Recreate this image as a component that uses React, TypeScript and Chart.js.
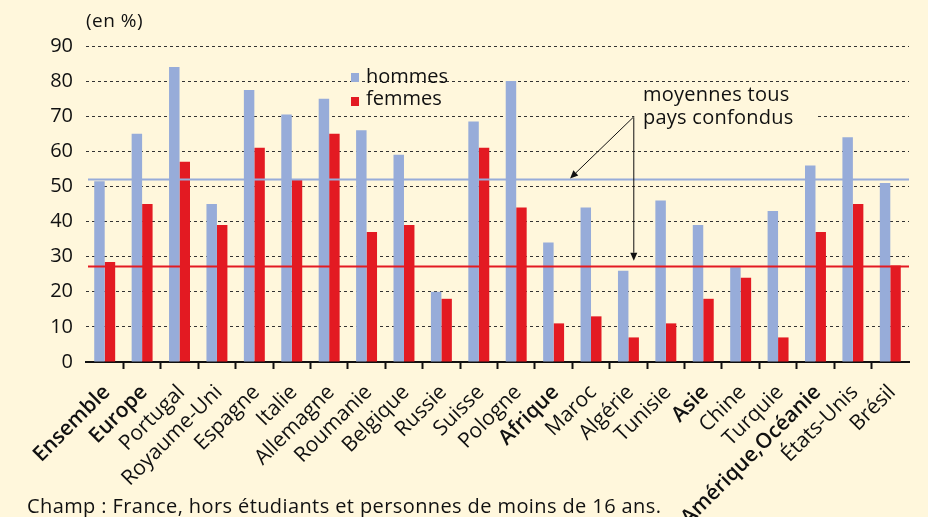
import React, { useEffect, useRef } from 'react';
import { Chart, registerables } from 'chart.js';

Chart.register(...registerables);

const categories = [
  'Ensemble', 'Europe', 'Portugal', 'Royaume-Uni', 'Espagne', 'Italie', 'Allemagne',
  'Roumanie', 'Belgique', 'Russie', 'Suisse', 'Pologne', 'Afrique', 'Maroc', 'Algérie',
  'Tunisie', 'Asie', 'Chine', 'Turquie', 'Amérique,Océanie', 'États-Unis', 'Brésil',
];
const boldCategories = ['Ensemble', 'Europe', 'Afrique', 'Asie', 'Amérique,Océanie'];
const hommes = [51.5, 65, 84, 45, 77.5, 70.5, 75, 66, 59, 20, 68.5, 80, 34, 44, 26, 46, 39, 27, 43, 56, 64, 51];
const femmes = [28.5, 45, 57, 39, 61, 52, 65, 37, 39, 18, 61, 44, 11, 13, 7, 11, 18, 24, 7, 37, 45, 27.5];
const moyenneHommes = 52;
const moyenneFemmes = 27.4;
const yMin = 0;
const yMax = 90;
const yStep = 10;
const seriesLabels = ['hommes', 'femmes'];
const annotationLines = ['moyennes tous', 'pays confondus'];
const unitLabel = '(en %)';
const footer = 'Champ : France, hors étudiants et personnes de moins de 16 ans.';

const BG = '#fff7dc';
const BLUE = '#97acd9';
const RED = '#e31a22';
const FONT = "'Open Sans', sans-serif";

const overlayPlugin = {
  id: 'overlay',
  afterDatasetsDraw(chart: any) {
    const { ctx, chartArea, scales } = chart;
    const x = scales.x;
    const y = scales.y;
    ctx.save();
    // mean lines
    const means: [number, string][] = [[moyenneHommes, BLUE], [moyenneFemmes, RED]];
    ctx.lineWidth = 2;
    for (const [v, c] of means) {
      const py = Math.round(y.getPixelForValue(v)) + 0.5;
      ctx.strokeStyle = c;
      ctx.beginPath();
      ctx.moveTo(chartArea.left + 2, py);
      ctx.lineTo(chartArea.right, py);
      ctx.stroke();
    }
    // mask behind annotation text
    const apexX = x.getPixelForValue(14.13);
    const apexY = y.getPixelForValue(69.7);
    ctx.fillStyle = BG;
    ctx.fillRect(apexX + 1, apexY - 7, 183, 14);
    // arrows
    ctx.strokeStyle = '#111';
    ctx.fillStyle = '#111';
    ctx.lineWidth = 1;
    const drawArrow = (x0: number, y0: number, x1: number, y1: number) => {
      const ang = Math.atan2(y1 - y0, x1 - x0);
      const hl = 8;
      const hw = 3.5;
      const bx = x1 - hl * Math.cos(ang);
      const by = y1 - hl * Math.sin(ang);
      ctx.beginPath();
      ctx.moveTo(x0, y0);
      ctx.lineTo(bx, by);
      ctx.stroke();
      ctx.beginPath();
      ctx.moveTo(x1, y1);
      ctx.lineTo(bx + hw * Math.sin(ang), by - hw * Math.cos(ang));
      ctx.lineTo(bx - hw * Math.sin(ang), by + hw * Math.cos(ang));
      ctx.closePath();
      ctx.fill();
    };
    drawArrow(apexX, apexY, x.getPixelForValue(12.44), y.getPixelForValue(moyenneHommes) - 1);
    drawArrow(apexX + 0.5, apexY, apexX + 0.5, y.getPixelForValue(moyenneFemmes) - 5);
    ctx.restore();
  },
};

export default function App() {
  const ref = useRef<HTMLCanvasElement>(null);
  useEffect(() => {
    if (!ref.current) return;
    const chart = new Chart(ref.current, {
      type: 'bar',
      data: {
        labels: categories,
        datasets: [
          { label: seriesLabels[0], data: hommes, backgroundColor: BLUE, borderWidth: 0 },
          { label: seriesLabels[1], data: femmes, backgroundColor: RED, borderWidth: 0 },
        ],
      },
      options: {
        responsive: false,
        animation: false,
        layout: { padding: { left: 0, top: 46, right: 19, bottom: 0 } },
        plugins: { legend: { display: false }, tooltip: { enabled: false } },
        datasets: { bar: { categoryPercentage: 0.56, barPercentage: 1.0 } },
        scales: {
          x: {
            afterFit: (s: any) => { s.height = 155; },
            grid: {
              offset: true,
              drawOnChartArea: false,
              drawTicks: true,
              tickLength: 7,
              tickWidth: 2,
              color: (c: any) => (c.type !== 'tick' || c.index === 0 ? 'rgba(0,0,0,0)' : '#111'),
            },
            border: { display: true, color: '#111', width: 2 },
            ticks: {
              autoSkip: false,
              minRotation: 45,
              maxRotation: 45,
              padding: 11,
              labelOffset: 2,
              color: '#111',
              font: (c: any) => ({
                family: FONT,
                size: 21,
                weight: boldCategories.includes(categories[c.index]) ? '600' : 'normal',
              }),
            },
          },
          y: {
            min: yMin,
            max: yMax,
            afterFit: (s: any) => { s.width = 86; },
            grid: {
              drawTicks: false,
              lineWidth: 1,
              color: (c: any) => (c.tick && c.tick.value === 0 ? 'rgba(0,0,0,0)' : '#333'),
            },
            border: { display: false, dash: [3, 3] },
            ticks: {
              stepSize: yStep,
              padding: 13,
              color: '#111',
              font: { family: FONT, size: 20 },
            },
          },
        },
      },
      plugins: [overlayPlugin],
    });
    return () => chart.destroy();
  }, []);

  const txt = (style: React.CSSProperties): React.CSSProperties => ({
    position: 'absolute',
    fontFamily: FONT,
    lineHeight: 1,
    whiteSpace: 'nowrap',
    color: '#111',
    ...style,
  });

  return (
    <div style={{ position: 'fixed', left: 0, top: 0, width: 928, height: 517, background: BG, overflow: 'hidden' }}>
      <canvas ref={ref} width={928} height={517} style={{ position: 'absolute', left: 0, top: 0 }} />
      <div style={txt({ left: 86, top: 11, fontSize: 19, letterSpacing: 0.5 })}>{unitLabel}</div>
      <div style={{ position: 'absolute', left: 351, top: 73, width: 8, height: 9, background: BLUE }} />
      <div style={{ position: 'absolute', left: 351, top: 97, width: 8, height: 9, background: RED }} />
      <div style={txt({ left: 366, top: 65.5, fontSize: 20 })}>{seriesLabels[0]}</div>
      <div style={txt({ left: 366, top: 88, fontSize: 20 })}>{seriesLabels[1]}</div>
      <div style={txt({ left: 643, top: 84, fontSize: 20, letterSpacing: 0.25 })}>{annotationLines[0]}</div>
      <div style={txt({ left: 643, top: 107, fontSize: 20, letterSpacing: 0.25 })}>{annotationLines[1]}</div>
      <div style={txt({ left: 27, top: 496, fontSize: 20, letterSpacing: 0.4 })}>{footer}</div>
    </div>
  );
}
